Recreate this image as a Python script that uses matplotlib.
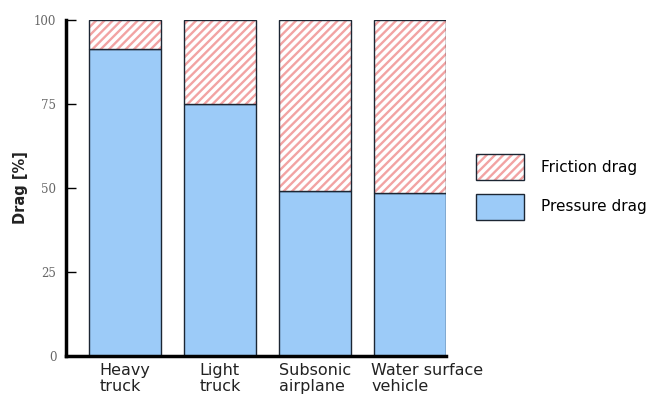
import matplotlib.pyplot as plt
from matplotlib.patches import Patch

# data
categories = ['Heavy\ntruck', 'Light\ntruck', 'Subsonic\nairplane', 'Water surface\nvehicle']
pressure = [91.5, 75, 49, 48.5]
friction = [100 - p for p in pressure]
yticks = [0, 25, 50, 75, 100]

blue = '#9ccbf8'
pink = '#f2a3a3'
edge = '#1c2633'

plt.rcParams['hatch.linewidth'] = 1.7

fig = plt.figure(figsize=(6.6, 4.03), dpi=100)
ax = fig.add_axes([0.1, 0.117, 0.576, 0.833])

x = list(range(len(categories)))
w = 0.75
ax.bar(x, pressure, width=w, color=blue, edgecolor=edge, linewidth=1.0, zorder=2)
# hatch layer (hatch takes the edge colour), then outline on top
ax.bar(x, friction, bottom=pressure, width=w, color='white', edgecolor=pink,
       hatch='////', linewidth=0, zorder=2)
ax.bar(x, friction, bottom=pressure, width=w, fill=False, edgecolor=edge,
       linewidth=1.0, zorder=3)

ax.set_xlim(-0.62, 3.38)
ax.set_ylim(0, 100)
ax.set_yticks(yticks)
ax.set_yticklabels([str(t) for t in yticks], family='DejaVu Serif', fontsize=8.5, color='#666666')
# x ticks are invisible, last label sits a bit right of its bar in the original
label_shift = [0, 0, 0, 0.18]
ax.set_xticks([i + s for i, s in zip(x, label_shift)])
ax.set_xticklabels(categories, fontsize=11.5, color='#222222', linespacing=1.1)
for lab in ax.get_xticklabels():
    lab.set_multialignment('left')
ax.tick_params(axis='x', length=0, pad=5)
ax.tick_params(axis='y', direction='in', length=7, width=1, pad=7)

for s in ['top', 'right']:
    ax.spines[s].set_visible(False)
ax.spines['left'].set_linewidth(2.5)
ax.spines['bottom'].set_linewidth(2.5)

ax.set_ylabel('Drag [%]', fontsize=10.5, fontweight='bold', color='#222222', labelpad=4)

friction_key = (Patch(facecolor='white', edgecolor=pink, hatch='////', linewidth=0),
                Patch(fill=False, edgecolor=edge, linewidth=1.0))
pressure_key = Patch(facecolor=blue, edgecolor=edge, linewidth=1.0)
fig.legend([friction_key, pressure_key], ['Friction drag', 'Pressure drag'], loc='center left',
           bbox_to_anchor=(0.7, 0.536), frameon=False, fontsize=11,
           handlelength=3.15, handleheight=2.27, labelspacing=0.86, handletextpad=1.1)

fig.savefig('out.png', dpi=100)
